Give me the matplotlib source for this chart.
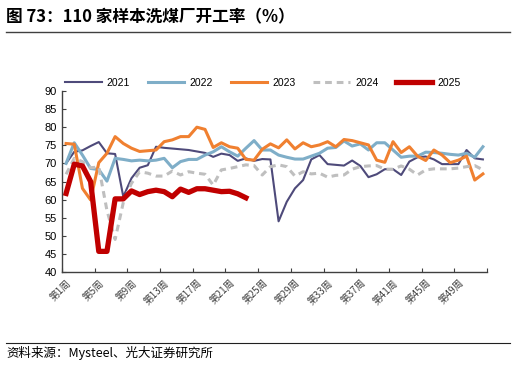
import matplotlib.pyplot as plt
import matplotlib as mpl
import numpy as np

plt.rcParams['font.family'] = ['Liberation Sans', 'Noto Sans CJK SC', 'DejaVu Sans']

weeks = np.arange(1, 53)
week_labels = ['第%d周' % w for w in range(1, 53, 4)]

y2021 = [70.0, 73.2, 73.6, 74.8, 75.9, 72.8, 72.6, 60.8, 65.9, 68.8,
         69.5, 74.6, 74.3, 74.1, 73.9, 73.7, 73.3, 72.9, 71.8, 72.7,
         72.3, 70.7, 71.4, 70.7, 71.2, 71.1, 54.0, 59.4, 63.1, 65.4,
         71.1, 72.3, 69.8, 69.6, 69.4, 70.8, 69.3, 66.2, 67.0, 68.4,
         68.4, 66.8, 70.5, 71.7, 71.9, 71.1, 69.8, 69.8, 69.8, 73.7,
         71.4, 71.1]
y2022 = [70.0, 75.7, 72.3, 68.6, 68.3, 65.1, 71.4, 71.1, 70.7, 70.9,
         70.7, 70.9, 71.4, 68.8, 70.5, 71.1, 71.1, 72.3, 73.2, 74.6,
         73.2, 72.0, 74.2, 76.3, 73.7, 73.7, 72.3, 71.7, 71.2, 71.2,
         72.0, 72.8, 74.2, 74.4, 76.2, 74.8, 75.4, 73.7, 75.7, 75.7,
         73.7, 71.7, 72.0, 72.0, 73.1, 73.0, 72.8, 72.5, 72.3, 72.8,
         71.7, 74.6]
y2023 = [75.5, 75.3, 63.1, 59.9, 70.2, 72.8, 77.4, 75.5, 74.2, 73.3,
         73.5, 73.7, 76.0, 76.5, 77.4, 77.4, 80.0, 79.4, 74.4, 75.7,
         74.6, 74.2, 71.1, 70.9, 73.9, 75.4, 74.3, 76.5, 74.0, 75.7,
         74.6, 75.1, 76.0, 74.6, 76.6, 76.3, 75.7, 75.1, 70.9, 70.3,
         76.0, 73.0, 74.6, 72.0, 70.8, 73.7, 72.3, 70.2, 70.9, 72.0,
         65.4, 67.1]
y2024 = [67.0, 71.4, 70.5, 68.8, 69.0, 57.0, 49.0, 59.2, 64.5, 67.7,
         67.3, 66.5, 66.5, 67.9, 66.8, 67.7, 67.3, 67.0, 64.0, 68.2,
         68.6, 69.1, 69.6, 69.4, 66.8, 69.1, 69.6, 69.1, 66.5, 67.7,
         67.1, 67.3, 66.2, 66.7, 66.8, 68.4, 69.1, 69.3, 69.4, 68.4,
         68.4, 69.3, 68.4, 66.8, 68.2, 68.5, 68.5, 68.5, 68.7, 69.1,
         69.4, 68.2]
y2025 = [61.7, 69.8, 69.3, 65.0, 45.7, 45.7, 60.2, 60.2, 62.4, 61.4,
         62.2, 62.6, 62.2, 60.8, 62.9, 62.0, 63.0, 63.0, 62.6, 62.2,
         62.3, 61.6, 60.5]

fig = plt.figure(figsize=(5.16, 3.65), dpi=100)
ax = fig.add_axes([62/516, 1-272/365, 425/516, 181/365])

ax.plot(weeks, y2021, color='#4E4A7A', lw=1.5, label='2021')
ax.plot(weeks, y2022, color='#7FAEC8', lw=2.2, label='2022')
ax.plot(weeks, y2023, color='#F08030', lw=2.2, label='2023')
ax.plot(weeks, y2024, color='#BFBFBF', lw=2.2, ls=(0, (2.2, 1.6)), label='2024')
ax.plot(weeks[:len(y2025)], y2025, color='#C00000', lw=3.8, label='2025',
        solid_joinstyle='round')

ax.set_xlim(0.5, 52.5)
ax.set_ylim(40, 90)
ax.set_yticks(np.arange(40, 91, 5))
ax.set_xticks(np.arange(0.5, 53, 4))
ax.set_xticklabels([])
ax.set_xticks(np.arange(1, 53, 4), minor=True)
ax.set_xticklabels(week_labels, minor=True, rotation=45, ha='right',
                   rotation_mode='anchor', fontsize=7,
                   family=['Noto Sans CJK SC', 'DejaVu Sans'], color='#404040')
ax.tick_params(axis='x', which='major', direction='in', length=3, color='#404040')
ax.tick_params(axis='x', which='minor', length=0, pad=4)
ax.tick_params(axis='y', direction='in', length=3, labelsize=8, color='#404040')

for s in ['top', 'right']:
    ax.spines[s].set_visible(False)
for s in ['left', 'bottom']:
    ax.spines[s].set_color('#404040')
    ax.spines[s].set_linewidth(1)

fig.legend(loc='center', bbox_to_anchor=(263/516, 1-83/365), ncol=5,
           frameon=False, fontsize=7.5, handlelength=3.5, handletextpad=0.5,
           columnspacing=1.7)

# title and source
fig.text(6/516, 1-17/365, '图 73：110 家样本洗煤厂开工率（%）', fontsize=12, weight='bold',
         va='center', ha='left', family=['Noto Sans CJK SC', 'DejaVu Sans'])
fig.add_artist(mpl.lines.Line2D([6/516, 510/516], [1-32/365, 1-32/365],
                                color='#404040', lw=1))
fig.add_artist(mpl.lines.Line2D([6/516, 510/516], [1-343/365, 1-343/365],
                                color='#202020', lw=0.8))
fig.text(6/516, 1-353/365, '资料来源：Mysteel、光大证券研究所', fontsize=9,
         va='center', ha='left', family=['Noto Sans CJK SC', 'DejaVu Sans'])

fig.savefig('out.png', dpi=100)
